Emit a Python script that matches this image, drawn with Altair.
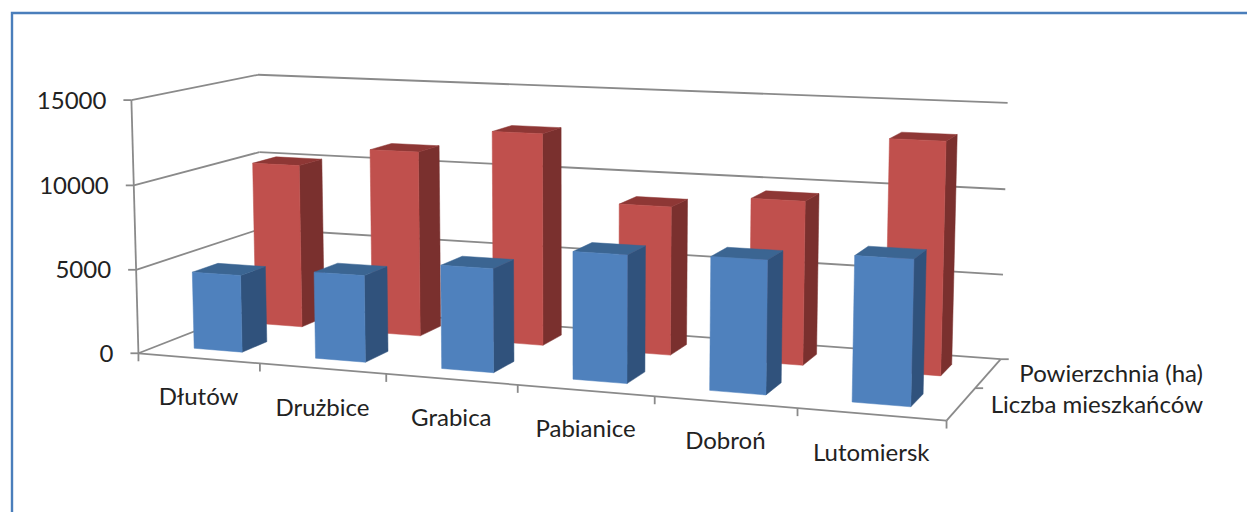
import altair as alt
import numpy as np
import pandas as pd

categories = ["Dłutów", "Drużbice", "Grabica", "Pabianice", "Dobroń", "Lutomiersk"]
mieszkancy = [4600, 5100, 6000, 7270, 7470, 8000]
powierzchnia = [10100, 11300, 12750, 8800, 9550, 13350]
series_names = ["Liczba mieszkańców", "Powierzchnia (ha)"]
value_ticks = [0, 5000, 10000, 15000]
FRONT = ["#4F81BD", "#C0504D"]
SIDE = ["#30527C", "#7A302E"]
TOP = ["#3B6592", "#8E3735"]
AXIS = "#8A8A8A"
FRAME = "#4A7EBB"
TEXT = "#222222"
FONT = "Lato"
FS = 24

# camera calibration: (category pos, depth pos, value) -> picture pixel
calib = [
    (0, 0, 0, 139, 353), (0, 0, 15000, 131, 101), (0, 2, 0, 262, 306), (0, 2, 5000, 261, 229),
    (0, 2, 10000, 260, 151), (0, 2, 15000, 258, 74), (6, 2, 15000, 1008, 103), (6, 2, 10000, 1005, 190),
    (6, 2, 5000, 1002, 275), (6, 2, 0, 1000, 358), (6, 0, 0, 946, 420), (6, 1, 0, 978, 389),
    (1, 0, 0, 260, 363), (2, 0, 0, 386, 374), (3, 0, 0, 517, 385), (4, 0, 0, 655, 396), (5, 0, 0, 797, 408),
]
A, b = [], []
for X, D, V, u, v in calib:
    w = (X / 6, D / 2, V / 15000, 1)
    A.append(list(w) + [0, 0, 0, 0] + [-u * c for c in w[:3]])
    b.append(u)
    A.append([0, 0, 0, 0] + list(w) + [-v * c for c in w[:3]])
    b.append(v)
sol = np.linalg.lstsq(np.array(A, float), np.array(b, float), rcond=None)[0]
P = np.append(sol, 1).reshape(3, 4)


def proj(X, D, V):
    p = P @ np.array([X / 6, D / 2, V / 15000, 1])
    return float(p[0] / p[2]), float(p[1] / p[2])


# bars as polygons
polys = []
pid = 0
for s, vals in enumerate([mieszkancy, powierzchnia]):
    for i, val in enumerate(vals):
        x0, x1, d0, d1 = i + 0.3, i + 0.7, s + 0.3, s + 0.7
        faces = [
            (SIDE[s], [(x1, d0, 0), (x1, d1, 0), (x1, d1, val), (x1, d0, val)]),
            (TOP[s], [(x0, d0, val), (x1, d0, val), (x1, d1, val), (x0, d1, val)]),
            (FRONT[s], [(x0, d0, 0), (x1, d0, 0), (x1, d0, val), (x0, d0, val)]),
        ]
        for col, pts in faces:
            pid += 1
            for k, q in enumerate(pts + pts[:1]):
                u, v = proj(*q)
                polys.append(dict(s=s, id=pid, k=k, x=u, y=v, col=col))
polys = pd.DataFrame(polys)

# wall and axis lines
segs = []
sid = 0
def seg(a, b, da=(0, 0), db=(0, 0)):
    global sid
    sid += 1
    ua, va = proj(*a)
    ub, vb = proj(*b)
    segs.append(dict(id=sid, k=0, x=ua + da[0], y=va + da[1]))
    segs.append(dict(id=sid, k=1, x=ub + db[0], y=vb + db[1]))
for v in value_ticks:
    seg((0, 0, v), (0, 2, v))
    seg((0, 2, v), (6, 2, v))
    seg((0, 0, v), (0, 0, v), da=(-8, 0))
seg((0, 0, 0), (0, 0, 15000))
seg((0, 0, 0), (6, 0, 0))
seg((6, 0, 0), (6, 2, 0))
for i in range(1, len(categories) + 1):
    seg((i, 0, 0), (i, 0, 0), db=(0, 8))
seg((0, 0, 0), (0, 0, 0), db=(0, 8))
for d in [1, 2]:
    seg((6, d, 0), (6, d, 0), db=(8, 0))
segs = pd.DataFrame(segs)

# labels
labels = []
for v in value_ticks:
    u, y = proj(0, 0, v)
    labels.append(dict(t=str(v), x=u - 25, y=y + 1.5, a="right"))
for i, c in enumerate(categories):
    u, y = proj(i + 0.5, 0, 0)
    labels.append(dict(t=c, x=u, y=y + 40, a="center"))
for s, name in enumerate(series_names):
    u, y = proj(6, s + 0.5, 0)
    labels.append(dict(t=name, x=1203, y=y + 2, a="right"))
labels = pd.DataFrame(labels)

X = alt.X("x:Q", scale=alt.Scale(domain=[8, 1247], nice=False, zero=False), axis=None)
Y = alt.Y("y:Q", scale=alt.Scale(domain=[512, 8], nice=False, zero=False), axis=None)

frame = alt.Chart(pd.DataFrame({"x": [12, 12, 1247], "y": [512, 13, 13], "k": [0, 1, 2]})).mark_line(
    color=FRAME, strokeWidth=2.4).encode(x=X, y=Y, order="k:Q")
lines = alt.Chart(segs).mark_line(color=AXIS, strokeWidth=1.8).encode(x=X, y=Y, detail="id:N", order="k:Q")

layers = [frame, lines]
for s in [1, 0]:
    layers.append(
        alt.Chart(polys[polys.s == s]).mark_line(strokeWidth=0.5, interpolate="linear").encode(
            x=X, y=Y, order="k:Q", detail="id:N",
            fill=alt.Fill("col:N", scale=None),
            stroke=alt.Stroke("col:N", scale=None),
        )
    )
for a in ["right", "center"]:
    layers.append(
        alt.Chart(labels[labels.a == a]).mark_text(align=a, baseline="middle", font=FONT, fontSize=FS, color=TEXT).encode(
            x=X, y=Y, text="t:N")
    )

chart = alt.layer(*layers).properties(width=1239, height=504, padding=0, autosize="none", background="white").configure_view(stroke=None)
chart.save("out.html", embed_options={"renderer": "svg", "actions": False})
